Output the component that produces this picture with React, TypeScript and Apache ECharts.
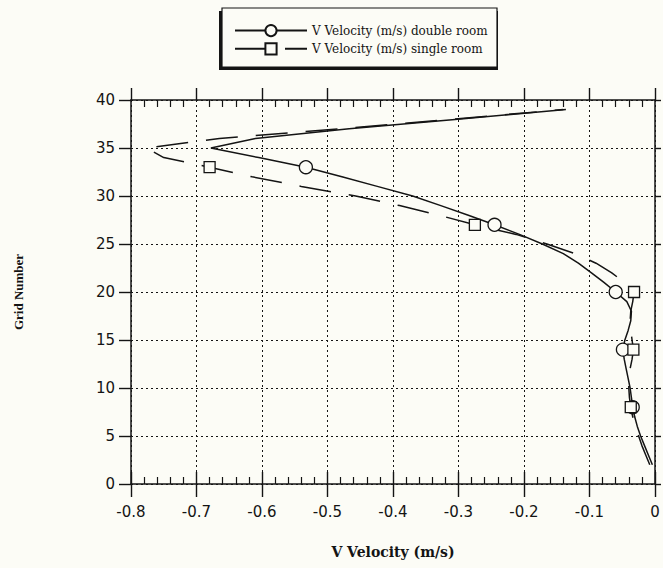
import React, { useEffect, useRef } from "react";
import * as echarts from "echarts";

// Grid numbers (y) and V velocity values (x)
const doubleGrid = [2, 3, 4, 5, 6, 7, 8, 9, 10, 11, 12, 13, 14, 15, 16, 17, 18, 19, 20, 21, 22, 23, 24, 25, 26, 27, 28, 29, 30, 31, 32, 33, 34, 35, 36, 37, 38, 39];
const doubleVelocity = [-0.004, -0.010, -0.016, -0.022, -0.027, -0.031, -0.034, -0.036, -0.038, -0.041, -0.044, -0.047, -0.049, -0.046, -0.041, -0.037, -0.036, -0.043, -0.060, -0.078, -0.097, -0.117, -0.140, -0.172, -0.207, -0.245, -0.285, -0.327, -0.370, -0.424, -0.478, -0.533, -0.605, -0.678, -0.610, -0.467, -0.301, -0.136];
const doubleMarkers = [8, 14, 20, 27, 33];

const singleGrid = [2, 3, 4, 5, 6, 7, 8, 9, 10, 11, 12, 13, 14, 15, 16, 17, 18, 19, 20, 21, 22, 23, 24, 25, 26, 27, 28, 29, 30, 31, 32, 33, 34, 35, 36, 37, 38, 39];
const singleVelocity = [-0.008, -0.014, -0.020, -0.025, -0.030, -0.034, -0.037, -0.039, -0.040, -0.040, -0.038, -0.035, -0.033, -0.035, -0.037, -0.038, -0.037, -0.034, -0.032, -0.047, -0.066, -0.090, -0.122, -0.165, -0.212, -0.275, -0.330, -0.390, -0.457, -0.540, -0.615, -0.680, -0.750, -0.776, -0.665, -0.480, -0.310, -0.140];
const singleMarkers = [8, 14, 20, 27, 33];

const seriesNames = ["V Velocity (m/s) double room", "V Velocity (m/s) single room"];
const xTickLabels = ["-0.8", "-0.7", "-0.6", "-0.5", "-0.4", "-0.3", "-0.2", "-0.1", "0"];
const yTickLabels = ["0", "5", "10", "15", "20", "25", "30", "35", "40"];

const BG = "#fcfcf6";
const INK = "#141414";

function buildData(grid: number[], vel: number[], markers: number[]) {
  return grid.map((g, i) =>
    markers.includes(g) ? { value: [vel[i], g] } : { value: [vel[i], g], symbol: "none" }
  );
}

export default function App() {
  const ref = useRef<HTMLDivElement>(null);

  useEffect(() => {
    document.body.style.margin = "0";
    document.body.style.background = BG;
    if (!ref.current) return;
    const chart = echarts.init(ref.current, undefined, { renderer: "svg" });

    const tickFont = { fontFamily: "DejaVu Sans", fontSize: 15, color: INK };
    const xLabelFmt = (v: number) => {
      const idx = Math.round((v + 0.8) / 0.1);
      return xTickLabels[idx] ?? "";
    };
    const yLabelFmt = (v: number) => {
      const idx = Math.round(v / 5);
      return yTickLabels[idx] ?? "";
    };
    const xBase = { type: "value", min: -0.8, max: 0, interval: 0.1, gridIndex: 0 };
    const yBase = { type: "value", min: 0, max: 40, interval: 5, gridIndex: 0 };

    chart.setOption({
      animation: false,
      backgroundColor: BG,
      grid: { left: 131, right: 8, top: 100, bottom: 84, containLabel: false },
      legend: {
        orient: "vertical",
        left: 229,
        top: 19,
        itemWidth: 72,
        itemHeight: 14,
        itemGap: 5,
        textStyle: { fontFamily: "DejaVu Serif", fontSize: 12, color: INK },
        data: seriesNames,
      },
      graphic: [
        { type: "rect", z: 0, shape: { x: 219, y: 11, width: 279, height: 59 }, style: { fill: INK } },
        { type: "rect", z: 1, shape: { x: 222, y: 8, width: 275, height: 59 }, style: { fill: BG, stroke: INK, lineWidth: 1.2 } },
      ],
      xAxis: [
        {
          ...xBase,
          position: "bottom",
          name: "V Velocity (m/s)",
          nameLocation: "middle",
          nameGap: 61,
          nameTextStyle: { fontFamily: "DejaVu Serif", fontSize: 14, fontWeight: "bold", color: INK },
          axisLine: { show: true, onZero: false, lineStyle: { color: INK, width: 1.5 } },
          axisTick: { show: true, length: 13, lineStyle: { color: INK, width: 1.4 } },
          axisLabel: { ...tickFont, margin: 20, formatter: xLabelFmt },
          splitLine: { show: true, lineStyle: { color: INK, width: 1, type: [2, 3] } },
        },
        {
          ...xBase,
          position: "bottom",
          axisLine: { show: false, onZero: false },
          axisTick: { show: true, inside: true, length: 12, lineStyle: { color: INK, width: 1.4 } },
          minorTick: { show: true, splitNumber: 5, length: 7, lineStyle: { color: INK, width: 1.2 } },
          axisLabel: { show: false },
          splitLine: { show: false },
        },
        {
          ...xBase,
          position: "top",
          axisLine: { show: true, onZero: false, lineStyle: { color: INK, width: 1.5 } },
          axisTick: { show: true, length: 12, lineStyle: { color: INK, width: 1.4 } },
          axisLabel: { show: false },
          splitLine: { show: false },
        },
        {
          ...xBase,
          position: "top",
          axisLine: { show: false, onZero: false },
          axisTick: { show: false, inside: true },
          minorTick: { show: true, splitNumber: 5, length: 7, lineStyle: { color: INK, width: 1.2 } },
          axisLabel: { show: false },
          splitLine: { show: false },
        },
      ],
      yAxis: [
        {
          ...yBase,
          position: "left",
          name: "Grid Number",
          nameLocation: "middle",
          nameRotate: 90,
          nameGap: 106,
          nameTextStyle: { fontFamily: "Liberation Serif", fontSize: 13, fontWeight: "bold", color: INK },
          axisLine: { show: true, onZero: false, lineStyle: { color: INK, width: 1.5 } },
          axisTick: { show: true, length: 12, lineStyle: { color: INK, width: 1.4 } },
          axisLabel: { ...tickFont, margin: 16, formatter: yLabelFmt },
          splitLine: { show: true, lineStyle: { color: INK, width: 1, type: [2, 3] } },
        },
        {
          ...yBase,
          position: "right",
          axisLine: { show: true, onZero: false, lineStyle: { color: INK, width: 1.5 } },
          axisTick: { show: true, length: 6, lineStyle: { color: INK, width: 1.4 } },
          axisLabel: { show: false },
          splitLine: { show: false },
        },
      ],
      series: [
        {
          name: seriesNames[0],
          type: "line",
          xAxisIndex: 0,
          yAxisIndex: 0,
          smooth: false,
          symbol: "circle",
          symbolSize: 13,
          showAllSymbol: true,
          lineStyle: { color: INK, width: 1.5, type: "solid" },
          itemStyle: { color: BG, borderColor: INK, borderWidth: 1.3 },
          emphasis: { disabled: true },
          data: buildData(doubleGrid, doubleVelocity, doubleMarkers),
        },
        {
          name: seriesNames[1],
          type: "line",
          xAxisIndex: 0,
          yAxisIndex: 0,
          smooth: false,
          symbol: "rect",
          symbolSize: 11,
          showAllSymbol: true,
          lineStyle: { color: INK, width: 1.5, type: [32, 18] },
          itemStyle: { color: BG, borderColor: INK, borderWidth: 1.3 },
          emphasis: { disabled: true },
          data: buildData(singleGrid, singleVelocity, singleMarkers),
        },
      ],
    });

    return () => chart.dispose();
  }, []);

  return (
    <div
      ref={ref}
      style={{ position: "fixed", left: 0, top: 0, width: 663, height: 568 }}
    />
  );
}
